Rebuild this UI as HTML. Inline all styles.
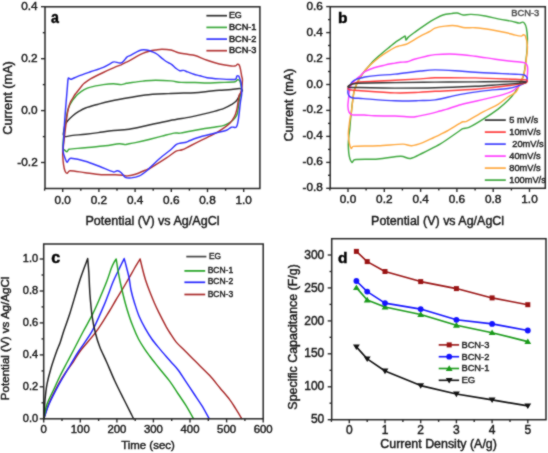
<!DOCTYPE html>
<html><head><meta charset="utf-8"><title>Figure</title>
<style>html,body{margin:0;padding:0;background:#fff;width:548px;height:453px;overflow:hidden}svg{display:block}text{font-family:"Liberation Sans",sans-serif}</style>
</head><body>
<svg width="548" height="453" viewBox="0 0 548 453" font-family='&quot;Liberation Sans&quot;, sans-serif'>
<filter id="soft" filterUnits="userSpaceOnUse" x="0" y="0" width="548" height="453" color-interpolation-filters="sRGB"><feConvolveMatrix order="3" kernelMatrix="1 2 1 2 12 2 1 2 1" divisor="24" edgeMode="duplicate"/></filter>
<g filter="url(#soft)">
<rect width="548" height="453" fill="#ffffff"/>
<path d="M63.3 134.5 C63.2 133.6 63.5 132.5 63.8 131.0 C64.1 129.3 64.4 126.3 65.1 124.6 C65.8 122.9 66.4 122.3 67.7 120.8 C69.0 119.3 70.9 117.3 72.8 115.7 C74.7 114.1 77.1 112.5 79.2 111.2 C81.3 109.9 82.7 109.0 85.5 108.0 C88.7 106.8 94.0 105.4 98.3 104.2 C102.6 103.0 105.8 102.1 111.1 101.0 C116.4 99.9 124.3 98.5 130.0 97.5 C135.7 96.5 138.9 95.7 145.3 95.0 C151.7 94.3 160.0 94.0 168.3 93.6 C176.6 93.2 188.5 93.0 195.0 92.7 C200.1 92.4 203.0 91.9 207.1 91.5 C211.2 91.1 215.2 90.6 219.3 90.3 C223.4 90.0 228.0 89.8 231.4 89.5 C234.8 89.2 238.1 88.5 239.9 88.6 C241.1 88.7 242.2 89.4 242.4 90.1 C242.6 90.8 241.6 91.7 241.2 92.5 C240.8 93.3 240.4 94.0 239.8 95.0 C239.0 96.4 237.6 99.5 236.2 101.1 C234.8 102.7 233.3 103.5 231.3 104.7 C229.3 105.9 226.8 107.3 224.0 108.4 C221.2 109.5 218.0 110.4 214.3 111.4 C210.7 112.4 206.2 113.5 202.1 114.4 C198.0 115.4 195.1 116.1 190.0 117.1 C184.7 118.1 176.8 119.2 170.1 120.5 C163.4 121.8 156.8 123.3 150.0 124.8 C143.2 126.2 135.5 128.2 129.0 129.2 C122.5 130.2 116.2 130.2 111.1 130.8 C106.0 131.4 102.6 132.0 98.3 132.6 C94.0 133.2 89.8 133.7 85.5 134.2 C81.2 134.7 76.3 135.0 72.8 135.4 C69.3 135.8 66.0 136.8 64.4 136.6 C63.4 136.5 63.4 135.4 63.3 134.5 Z" fill="none" stroke="#2e2e2e" stroke-width="1.45" stroke-linejoin="round" stroke-linecap="round"/>
<path d="M63.1 149.2 C62.9 148.5 62.9 147.3 62.9 146.0 C62.9 144.5 63.1 142.2 63.3 140.0 C63.5 137.8 63.6 135.9 64.0 133.0 C64.4 130.0 65.1 125.8 65.7 122.0 C66.3 118.2 67.0 113.5 67.7 110.5 C68.4 107.7 69.4 105.9 70.2 104.2 C71.0 102.5 71.9 101.4 72.7 100.2 C73.5 99.0 74.5 98.0 75.3 97.0 C76.1 96.0 76.6 95.3 77.8 94.3 C79.3 93.1 82.1 90.9 84.2 89.7 C86.3 88.5 87.7 87.8 90.5 87.1 C93.7 86.2 99.5 85.2 103.3 84.6 C107.1 84.0 110.5 83.7 113.5 83.7 C116.5 83.7 119.1 84.7 121.2 84.6 C123.3 84.5 124.8 83.6 126.3 83.3 C127.8 83.0 128.4 83.0 130.0 82.8 C132.8 82.4 138.6 81.5 142.8 81.1 C147.1 80.7 150.8 80.2 155.5 80.2 C160.2 80.2 166.6 80.5 170.9 80.9 C175.2 81.3 177.1 82.1 181.1 82.4 C185.1 82.7 190.7 82.4 195.0 82.5 C199.3 82.6 203.0 83.0 207.1 83.0 C211.2 83.0 214.6 82.7 219.3 82.5 C224.0 82.3 232.1 82.3 235.1 81.8 C236.4 81.6 236.8 79.9 237.5 79.7 C238.2 79.5 238.8 79.8 239.3 80.4 C239.8 81.0 240.2 82.1 240.5 83.4 C240.9 85.0 241.7 88.2 241.7 90.1 C241.7 92.0 240.9 93.8 240.6 95.0 C240.3 96.0 240.0 96.4 239.8 97.4 C239.5 99.0 239.0 102.1 238.6 104.7 C238.2 107.3 238.0 111.0 237.4 113.2 C236.8 115.4 236.1 116.6 234.9 118.1 C233.7 119.6 231.9 121.1 230.1 122.3 C228.3 123.5 226.6 124.6 224.0 125.4 C221.4 126.2 218.0 126.6 214.3 127.2 C210.7 127.8 206.2 128.3 202.1 129.0 C198.0 129.7 193.7 130.5 190.0 131.2 C186.3 131.9 182.8 132.8 180.1 133.1 C177.6 133.4 176.6 132.7 174.1 133.1 C171.1 133.6 166.0 135.1 162.0 136.1 C158.0 137.1 154.4 138.1 150.0 139.2 C145.6 140.3 139.1 141.8 135.4 142.6 C132.3 143.3 129.7 143.7 128.0 144.0 C126.9 144.2 126.5 144.6 125.3 144.6 C123.8 144.6 121.8 143.6 119.3 143.8 C116.0 144.0 110.9 145.1 105.2 145.8 C99.5 146.5 91.2 147.2 85.2 147.8 C79.2 148.4 72.1 148.5 69.1 149.2 C67.8 149.5 67.8 151.6 67.0 151.7 C66.2 151.8 65.1 150.3 64.4 149.9 C63.9 149.6 63.3 149.8 63.1 149.2 Z" fill="none" stroke="#3aa83a" stroke-width="1.45" stroke-linejoin="round" stroke-linecap="round"/>
<path d="M62.7 154.2 C62.7 151.6 63.0 150.3 63.2 148.0 C63.4 145.7 63.7 143.5 64.1 140.2 C64.5 136.9 65.0 132.0 65.5 128.0 C66.0 124.0 66.5 119.3 67.0 116.0 C67.5 112.7 67.9 110.3 68.5 108.0 C69.1 105.7 69.8 103.6 70.5 102.0 C71.2 100.4 71.9 99.6 72.7 98.3 C73.5 97.0 74.5 95.2 75.3 94.0 C76.1 92.8 76.8 92.3 77.8 91.0 C78.9 89.7 80.6 87.3 81.7 86.0 C82.7 84.8 83.0 84.3 84.2 83.3 C85.7 82.1 87.7 80.4 90.5 78.8 C93.7 77.0 99.0 74.5 103.3 72.5 C107.6 70.5 113.1 68.0 116.1 66.7 C118.2 65.8 119.5 65.5 121.2 64.8 C122.9 64.0 124.8 62.9 126.3 62.2 C127.8 61.5 128.5 61.2 130.0 60.4 C131.7 59.5 134.3 57.8 136.4 56.6 C138.5 55.4 140.7 54.3 142.8 53.4 C144.9 52.5 147.1 51.8 149.2 51.2 C151.3 50.6 153.4 50.3 155.5 50.0 C157.6 49.7 159.3 49.2 161.9 49.2 C164.5 49.2 168.1 49.4 170.9 50.0 C173.7 50.6 175.7 52.1 178.5 52.8 C181.3 53.5 184.8 53.8 187.5 54.3 C190.2 54.8 191.9 54.6 195.0 55.5 C198.3 56.5 203.0 58.9 207.1 60.3 C211.2 61.7 215.2 63.0 219.3 64.0 C223.4 65.0 228.7 65.7 231.4 66.0 C233.2 66.2 234.7 66.1 235.7 65.8 C236.6 65.5 236.9 64.4 237.5 64.3 C238.1 64.2 238.9 64.5 239.3 65.2 C239.8 66.1 240.1 67.6 240.5 69.4 C240.9 71.2 241.4 74.5 241.7 76.1 C241.9 77.4 242.3 77.8 242.4 79.1 C242.5 80.4 242.3 82.3 242.2 84.0 C242.1 85.7 242.0 87.5 241.7 89.0 C241.4 90.5 240.9 92.0 240.5 93.0 C240.1 93.9 239.5 94.0 239.2 95.0 C238.8 96.5 238.4 99.9 238.0 102.3 C237.6 104.7 237.4 107.2 236.8 109.6 C236.2 112.0 235.4 114.7 234.3 116.9 C233.2 119.1 231.8 121.1 230.1 122.9 C228.4 124.7 226.6 126.0 224.0 127.8 C221.4 129.6 218.0 131.9 214.3 133.9 C210.7 135.9 206.2 137.9 202.1 139.9 C198.0 141.9 193.3 144.3 190.0 146.0 C186.7 147.6 184.4 148.9 182.1 149.8 C179.8 150.7 178.4 150.0 176.1 151.2 C173.4 152.6 170.4 155.4 166.1 158.2 C161.8 161.0 153.1 166.5 150.0 168.3 C149.0 168.9 148.5 168.9 147.4 169.3 C145.0 170.3 138.8 173.2 135.4 174.3 C132.1 175.4 129.3 175.7 127.3 175.9 C125.6 176.0 125.0 175.5 123.3 175.3 C121.3 175.1 118.7 174.8 115.3 174.7 C111.6 174.6 106.2 175.0 101.2 174.7 C96.2 174.4 90.4 173.4 85.2 172.7 C80.0 172.0 73.1 170.6 70.1 170.7 C68.4 170.8 67.9 173.2 67.1 173.3 C66.3 173.4 65.5 172.4 65.1 171.3 C64.5 169.8 63.9 167.2 63.5 164.3 C63.1 161.5 62.8 156.9 62.7 154.2 Z" fill="none" stroke="#b23434" stroke-width="1.45" stroke-linejoin="round" stroke-linecap="round"/>
<path d="M63.1 151.2 C62.9 148.2 63.4 143.5 63.6 140.0 C63.8 136.5 63.9 134.3 64.1 130.1 C64.3 125.9 64.7 120.0 65.1 115.0 C65.5 110.0 65.9 104.5 66.3 100.0 C66.7 95.5 67.0 91.6 67.3 88.0 C67.6 84.4 67.8 79.8 68.2 78.2 C68.3 77.7 69.0 78.3 69.5 78.5 C70.0 78.7 70.6 79.4 71.4 79.2 C72.8 78.8 75.0 77.4 77.8 76.3 C81.0 75.1 86.2 73.3 90.5 71.8 C94.8 70.3 99.6 68.9 103.3 67.3 C107.0 65.7 111.0 63.1 112.9 62.2 C113.6 61.9 114.0 61.8 114.8 61.9 C115.8 62.0 117.5 62.7 118.6 62.9 C119.7 63.1 120.3 63.2 121.2 62.9 C122.1 62.6 122.8 61.9 123.7 61.0 C124.7 60.0 125.9 58.0 126.9 57.1 C128.0 56.2 128.7 56.3 130.0 55.6 C131.6 54.8 134.5 53.0 136.4 52.1 C138.3 51.2 139.8 50.4 141.5 50.0 C143.2 49.6 144.9 49.8 146.6 50.0 C148.3 50.2 150.0 50.8 151.7 51.5 C153.4 52.2 154.9 52.7 156.8 54.0 C158.7 55.3 161.3 57.8 163.2 59.2 C165.1 60.7 166.9 61.9 168.3 62.7 C169.6 63.5 170.3 63.4 171.5 64.3 C172.8 65.2 174.6 67.3 176.0 68.4 C177.4 69.5 178.5 70.4 179.8 70.7 C181.1 71.0 182.3 70.2 183.6 70.4 C184.9 70.6 185.9 71.3 187.5 71.9 C189.2 72.5 191.8 73.6 193.9 74.2 C196.0 74.8 197.8 75.2 200.0 75.8 C202.2 76.4 204.1 77.2 207.1 77.7 C210.3 78.2 215.2 78.6 219.3 78.9 C223.4 79.2 228.7 79.5 231.4 79.5 C233.2 79.5 234.8 79.7 235.7 79.1 C236.6 78.5 236.4 76.6 236.9 76.1 C237.4 75.6 238.2 75.6 238.7 76.1 C239.2 76.6 239.5 78.0 239.9 79.1 C240.3 80.2 240.8 81.2 241.1 82.8 C241.4 84.6 241.6 88.1 241.7 90.1 C241.8 92.1 241.8 93.0 241.6 95.0 C241.4 97.0 240.8 99.3 240.4 102.3 C240.0 105.3 239.6 110.0 239.2 113.2 C238.8 116.4 238.5 119.4 238.0 121.7 C237.5 124.0 237.3 126.3 236.2 127.2 C235.1 128.1 232.9 126.7 231.3 127.2 C229.7 127.7 228.7 129.4 226.4 130.2 C223.6 131.2 218.4 132.3 214.3 133.3 C210.2 134.3 206.2 135.1 202.1 136.3 C198.0 137.5 192.7 139.5 190.0 140.5 C188.3 141.1 187.8 141.8 186.1 142.2 C184.4 142.6 181.8 142.8 180.1 143.2 C178.4 143.6 177.6 143.6 176.1 144.6 C174.4 145.8 172.7 148.0 170.1 150.2 C167.4 152.5 163.3 155.3 160.0 158.2 C156.7 161.1 152.1 165.6 150.0 167.6 C148.9 168.7 148.6 169.3 147.4 170.3 C145.6 171.7 142.1 174.6 139.4 175.9 C136.7 177.2 133.7 177.7 131.3 177.9 C129.0 178.1 127.0 178.2 125.3 177.3 C123.6 176.4 122.6 173.8 121.3 172.7 C120.0 171.6 118.6 170.8 117.3 170.7 C116.0 170.6 115.0 172.3 113.3 171.9 C110.3 171.2 103.9 168.1 99.2 166.3 C94.5 164.5 89.9 162.5 85.2 161.2 C80.5 159.8 73.8 158.5 71.1 158.2 C70.2 158.1 69.8 158.5 69.1 159.2 C68.4 159.9 67.8 162.4 67.1 162.2 C66.4 162.0 65.7 160.0 65.1 158.2 C64.4 156.4 63.4 154.2 63.1 151.2 Z" fill="none" stroke="#3333ff" stroke-width="1.45" stroke-linejoin="round" stroke-linecap="round"/>
<rect x="45.0" y="6.8" width="214.9" height="181.7" fill="none" stroke="#262626" stroke-width="1.50"/>
<line x1="41.0" y1="6.7" x2="45.0" y2="6.7" stroke="#262626" stroke-width="1.35"/>
<line x1="41.0" y1="58.7" x2="45.0" y2="58.7" stroke="#262626" stroke-width="1.35"/>
<line x1="41.0" y1="110.6" x2="45.0" y2="110.6" stroke="#262626" stroke-width="1.35"/>
<line x1="41.0" y1="162.5" x2="45.0" y2="162.5" stroke="#262626" stroke-width="1.35"/>
<line x1="42.8" y1="32.7" x2="45.0" y2="32.7" stroke="#262626" stroke-width="1.35"/>
<line x1="42.8" y1="84.6" x2="45.0" y2="84.6" stroke="#262626" stroke-width="1.35"/>
<line x1="42.8" y1="136.6" x2="45.0" y2="136.6" stroke="#262626" stroke-width="1.35"/>
<text x="37.7" y="9.9" font-size="11.80" text-anchor="end" font-weight="normal" fill="#161616" stroke="#161616" stroke-width="0.42" >0.4</text>
<text x="37.7" y="61.9" font-size="11.80" text-anchor="end" font-weight="normal" fill="#161616" stroke="#161616" stroke-width="0.42" >0.2</text>
<text x="37.7" y="113.8" font-size="11.80" text-anchor="end" font-weight="normal" fill="#161616" stroke="#161616" stroke-width="0.42" >0.0</text>
<text x="37.7" y="165.7" font-size="11.80" text-anchor="end" font-weight="normal" fill="#161616" stroke="#161616" stroke-width="0.42" >-0.2</text>
<line x1="62.7" y1="188.5" x2="62.7" y2="192.1" stroke="#262626" stroke-width="1.35"/>
<line x1="98.9" y1="188.5" x2="98.9" y2="192.1" stroke="#262626" stroke-width="1.35"/>
<line x1="135.1" y1="188.5" x2="135.1" y2="192.1" stroke="#262626" stroke-width="1.35"/>
<line x1="171.3" y1="188.5" x2="171.3" y2="192.1" stroke="#262626" stroke-width="1.35"/>
<line x1="207.5" y1="188.5" x2="207.5" y2="192.1" stroke="#262626" stroke-width="1.35"/>
<line x1="243.7" y1="188.5" x2="243.7" y2="192.1" stroke="#262626" stroke-width="1.35"/>
<line x1="44.6" y1="188.5" x2="44.6" y2="190.7" stroke="#262626" stroke-width="1.35"/>
<line x1="80.8" y1="188.5" x2="80.8" y2="190.7" stroke="#262626" stroke-width="1.35"/>
<line x1="117.0" y1="188.5" x2="117.0" y2="190.7" stroke="#262626" stroke-width="1.35"/>
<line x1="153.2" y1="188.5" x2="153.2" y2="190.7" stroke="#262626" stroke-width="1.35"/>
<line x1="189.4" y1="188.5" x2="189.4" y2="190.7" stroke="#262626" stroke-width="1.35"/>
<line x1="225.6" y1="188.5" x2="225.6" y2="190.7" stroke="#262626" stroke-width="1.35"/>
<text x="62.7" y="203.6" font-size="11.80" text-anchor="middle" font-weight="normal" fill="#161616" stroke="#161616" stroke-width="0.42" >0.0</text>
<text x="98.9" y="203.6" font-size="11.80" text-anchor="middle" font-weight="normal" fill="#161616" stroke="#161616" stroke-width="0.42" >0.2</text>
<text x="135.1" y="203.6" font-size="11.80" text-anchor="middle" font-weight="normal" fill="#161616" stroke="#161616" stroke-width="0.42" >0.4</text>
<text x="171.3" y="203.6" font-size="11.80" text-anchor="middle" font-weight="normal" fill="#161616" stroke="#161616" stroke-width="0.42" >0.6</text>
<text x="207.5" y="203.6" font-size="11.80" text-anchor="middle" font-weight="normal" fill="#161616" stroke="#161616" stroke-width="0.42" >0.8</text>
<text x="243.7" y="203.6" font-size="11.80" text-anchor="middle" font-weight="normal" fill="#161616" stroke="#161616" stroke-width="0.42" >1.0</text>
<text x="152.5" y="224.6" font-size="12.50" text-anchor="middle" font-weight="normal" fill="#161616" stroke="#161616" stroke-width="0.42" textLength="134.0" lengthAdjust="spacingAndGlyphs" >Potential (V) vs Ag/AgCl</text>
<text x="12.3" y="97.9" font-size="12.50" text-anchor="middle" font-weight="normal" fill="#161616" stroke="#161616" stroke-width="0.42" textLength="73.5" lengthAdjust="spacingAndGlyphs" transform="rotate(-90 12.3 97.9)" >Current (mA)</text>
<text x="51.1" y="22.9" font-size="16.00" text-anchor="start" font-weight="bold" fill="#000" stroke="#000" stroke-width="0.45" textLength="7.9" lengthAdjust="spacingAndGlyphs" >a</text>
<line x1="206.4" y1="15.7" x2="227.0" y2="15.7" stroke="#2e2e2e" stroke-width="1.70"/>
<text x="228.9" y="18.2" font-size="8.80" text-anchor="start" font-weight="normal" fill="#161616" stroke="#161616" stroke-width="0.42" textLength="12.9" lengthAdjust="spacingAndGlyphs" >EG</text>
<line x1="206.4" y1="27.4" x2="227.0" y2="27.4" stroke="#3aa83a" stroke-width="1.70"/>
<text x="228.9" y="29.9" font-size="8.80" text-anchor="start" font-weight="normal" fill="#161616" stroke="#161616" stroke-width="0.42" textLength="27.6" lengthAdjust="spacingAndGlyphs" >BCN-1</text>
<line x1="206.4" y1="39.1" x2="227.0" y2="39.1" stroke="#3333ff" stroke-width="1.70"/>
<text x="228.9" y="41.6" font-size="8.80" text-anchor="start" font-weight="normal" fill="#161616" stroke="#161616" stroke-width="0.42" textLength="27.6" lengthAdjust="spacingAndGlyphs" >BCN-2</text>
<line x1="206.4" y1="50.7" x2="227.0" y2="50.7" stroke="#b23434" stroke-width="1.70"/>
<text x="228.9" y="53.2" font-size="8.80" text-anchor="start" font-weight="normal" fill="#161616" stroke="#161616" stroke-width="0.42" textLength="27.6" lengthAdjust="spacingAndGlyphs" >BCN-3</text>
<path d="M351.9 162.3 C351.0 161.8 349.9 159.1 349.3 156.4 C348.7 153.5 348.4 148.4 348.3 145.0 C348.2 141.6 348.7 138.5 348.9 136.0 C349.1 133.5 349.4 132.5 349.7 129.9 C350.0 127.2 350.2 122.7 350.5 120.0 C350.7 117.5 350.9 116.5 351.2 114.0 C351.5 111.5 351.6 108.8 352.1 105.1 C352.6 101.4 353.2 95.3 354.0 91.7 C354.8 88.1 355.8 85.8 357.0 83.2 C358.2 80.6 359.8 78.1 361.2 75.9 C362.6 73.7 364.1 71.7 365.5 69.9 C366.9 68.1 368.3 66.8 369.7 65.2 C371.1 63.6 372.1 62.2 374.1 60.2 C376.2 58.2 379.4 55.5 382.0 53.2 C384.6 50.9 387.8 48.4 390.0 46.6 C392.1 44.9 392.8 44.2 395.0 42.6 C397.2 41.0 401.6 38.2 403.3 37.1 C404.1 36.6 404.9 35.6 405.3 36.1 C405.7 36.6 405.4 39.9 405.9 40.1 C406.4 40.3 407.1 38.2 408.3 37.1 C410.0 35.6 413.3 33.3 416.3 31.1 C419.3 28.9 423.4 26.1 426.4 24.1 C429.4 22.1 431.6 20.6 434.4 19.1 C437.2 17.6 440.2 15.9 443.0 15.0 C445.8 14.1 448.8 13.9 451.1 13.6 C453.5 13.3 455.1 12.8 457.1 13.0 C459.1 13.2 460.8 14.8 463.1 15.0 C465.4 15.2 467.7 14.2 471.1 14.4 C474.8 14.6 480.5 15.2 485.2 16.0 C489.9 16.8 494.9 18.2 499.3 19.1 C503.7 20.0 508.0 20.4 511.3 21.1 C514.6 21.8 517.5 22.9 519.3 23.1 C520.6 23.2 521.4 22.1 522.3 22.1 C523.1 22.1 523.8 22.3 524.4 23.1 C525.1 24.1 526.0 25.9 526.4 28.1 C526.9 30.6 527.3 34.4 527.4 38.1 C527.5 41.8 527.3 45.9 527.0 50.2 C526.7 54.6 526.0 59.9 525.4 64.2 C524.8 68.5 524.3 73.2 523.4 76.3 C522.5 79.3 521.4 80.4 520.0 83.0 C518.6 85.6 517.1 89.2 515.1 92.1 C513.1 95.0 510.7 97.8 507.9 100.6 C505.1 103.4 502.2 106.0 498.1 109.1 C494.1 112.1 488.5 115.9 483.6 118.9 C478.8 122.0 472.4 125.8 469.0 127.4 C466.6 128.5 464.5 128.0 462.9 128.6 C461.3 129.2 460.8 130.0 459.3 131.0 C456.7 132.8 450.3 137.3 447.1 139.5 C444.2 141.5 442.2 142.8 440.0 144.1 C437.8 145.4 436.4 146.0 433.8 147.4 C430.9 148.9 426.7 151.2 422.8 153.0 C418.9 154.8 414.3 157.9 410.6 158.5 C406.9 159.1 405.0 156.2 400.7 156.3 C395.3 156.4 385.7 158.4 378.0 159.0 C370.3 159.6 359.0 159.1 354.6 159.7 C353.0 159.9 352.8 162.9 351.9 162.3 Z" fill="none" stroke="#3fa83f" stroke-width="1.45" stroke-linejoin="round" stroke-linecap="round"/>
<path d="M348.3 133.8 C348.3 130.6 349.0 126.8 349.3 124.0 C349.6 121.2 350.0 119.0 350.3 117.0 C350.6 115.0 351.1 114.1 351.4 112.0 C351.7 109.8 351.9 107.4 352.3 104.0 C352.8 100.6 353.3 95.0 354.1 91.5 C354.9 88.0 355.9 85.7 357.1 83.1 C358.3 80.5 359.9 78.0 361.3 75.8 C362.7 73.6 364.0 71.7 365.6 69.8 C367.2 67.9 368.7 66.4 371.0 64.3 C373.3 62.2 376.7 59.3 379.4 57.2 C382.1 55.1 384.7 53.5 387.3 51.9 C389.9 50.2 393.2 48.2 395.0 47.3 C396.3 46.6 396.9 46.6 398.3 46.2 C400.2 45.7 404.3 44.9 406.3 44.2 C408.1 43.6 408.7 43.0 410.3 42.1 C412.6 40.8 417.0 37.9 420.4 36.1 C423.8 34.3 428.0 32.4 430.4 31.1 C432.4 30.0 432.8 28.8 435.0 28.1 C437.4 27.3 441.6 26.5 445.0 26.1 C448.4 25.7 451.8 25.4 455.1 25.7 C458.5 26.0 461.8 27.4 465.1 27.7 C468.5 28.0 471.0 27.4 475.2 27.7 C479.5 28.0 486.2 28.9 491.2 29.7 C496.2 30.5 501.3 31.6 505.3 32.5 C509.3 33.4 512.6 34.5 515.3 35.1 C517.8 35.7 519.9 36.2 521.3 36.1 C522.4 36.0 522.7 34.7 523.4 34.7 C524.1 34.7 525.1 35.1 525.4 36.1 C526.1 38.0 527.2 42.5 527.4 46.2 C527.6 49.9 526.9 53.9 526.4 58.2 C525.9 62.6 525.5 68.1 524.4 72.3 C523.3 76.5 521.4 80.2 520.0 83.5 C518.6 86.8 518.0 89.8 516.0 92.0 C514.0 94.2 510.9 95.0 507.9 97.0 C504.9 99.0 502.2 101.9 498.1 104.3 C494.1 106.7 488.9 108.8 483.6 111.6 C478.4 114.4 470.1 119.6 466.6 121.3 C465.2 122.0 464.1 121.4 462.9 121.8 C461.7 122.2 460.8 122.8 459.3 123.7 C456.7 125.2 450.3 129.2 447.1 131.0 C444.2 132.6 442.2 133.5 440.0 134.6 C437.8 135.7 436.4 136.3 433.8 137.5 C430.9 138.8 426.5 141.2 422.8 142.6 C419.1 144.0 415.0 145.4 411.7 145.7 C408.4 145.9 406.7 144.1 402.9 144.1 C397.3 144.1 386.3 145.4 378.0 145.8 C369.7 146.2 357.7 146.0 353.2 146.4 C352.0 146.5 351.8 149.0 351.2 148.4 C350.6 147.8 349.8 145.4 349.3 143.1 C348.8 140.7 348.3 137.0 348.3 133.8 Z" fill="none" stroke="#ffa940" stroke-width="1.45" stroke-linejoin="round" stroke-linecap="round"/>
<path d="M348.5 99.0 C348.7 96.6 348.9 94.0 349.2 92.0 C349.5 90.0 349.6 88.7 350.3 87.0 C351.0 85.3 352.3 83.4 353.4 82.0 C354.5 80.6 355.8 79.7 357.0 78.6 C358.2 77.5 359.3 76.7 360.6 75.5 C361.9 74.3 362.7 72.9 364.8 71.7 C367.1 70.4 370.8 68.9 374.1 67.8 C377.4 66.7 381.2 65.9 384.7 65.1 C388.2 64.3 392.4 63.6 395.0 63.1 C397.2 62.7 398.2 62.4 400.3 62.2 C402.4 62.0 405.0 62.3 407.3 61.8 C409.6 61.3 411.3 60.1 414.3 59.2 C417.5 58.3 422.9 57.0 426.4 56.2 C429.8 55.4 431.3 54.9 435.0 54.6 C439.8 54.3 448.4 53.9 455.1 54.2 C461.8 54.5 468.5 55.4 475.2 56.2 C481.9 57.0 489.2 58.4 495.2 59.2 C501.2 60.0 507.0 60.7 511.3 61.2 C515.5 61.7 518.9 61.9 521.3 62.2 C523.1 62.4 524.4 62.5 525.4 63.2 C526.4 63.9 527.0 64.7 527.4 66.2 C527.8 67.7 527.7 70.0 527.6 72.0 C527.5 74.0 527.2 76.5 527.0 78.0 C526.8 79.4 527.1 80.2 526.1 81.2 C524.9 82.4 522.2 83.3 520.0 84.9 C517.8 86.5 515.5 89.3 512.7 90.9 C509.9 92.5 507.2 93.4 503.0 94.6 C498.1 96.0 490.1 97.9 483.6 99.4 C477.1 100.9 468.2 102.9 464.1 103.8 C462.1 104.3 461.3 104.4 459.3 105.0 C456.5 105.9 450.3 108.1 447.1 109.1 C444.2 110.0 442.9 110.2 440.0 111.0 C437.1 111.8 433.0 113.1 429.4 113.9 C425.8 114.8 421.3 115.6 418.4 116.1 C415.6 116.6 414.5 117.0 411.7 117.0 C407.8 117.0 401.2 116.2 395.0 116.0 C388.8 115.8 379.3 116.0 374.2 115.8 C370.0 115.7 368.0 115.2 364.3 115.0 C360.6 114.8 354.6 115.2 352.1 114.8 C350.5 114.5 349.8 113.8 349.1 112.4 C348.4 111.0 348.0 108.5 347.9 106.3 C347.8 104.1 348.3 101.4 348.5 99.0 Z" fill="none" stroke="#ff40ff" stroke-width="1.45" stroke-linejoin="round" stroke-linecap="round"/>
<path d="M347.9 92.9 C347.7 91.5 348.1 89.4 348.5 88.1 C348.9 86.8 349.6 86.0 350.2 85.0 C350.8 84.0 351.2 82.9 352.1 82.0 C353.0 81.1 353.9 80.3 355.5 79.6 C357.1 78.9 360.3 78.1 361.9 77.7 C363.1 77.4 363.6 77.2 364.8 77.0 C367.5 76.6 373.1 75.9 378.1 75.4 C383.1 74.9 387.9 74.8 395.0 74.1 C402.1 73.4 413.7 71.7 420.4 71.0 C426.5 70.4 429.2 70.0 435.0 69.9 C440.8 69.9 448.4 70.3 455.1 70.7 C461.8 71.1 468.5 71.9 475.2 72.3 C481.9 72.7 488.5 73.0 495.2 73.3 C501.9 73.6 510.6 74.1 515.3 74.3 C518.7 74.5 521.4 74.2 523.4 74.7 C525.2 75.2 526.4 76.4 527.0 77.3 C527.6 78.2 526.9 79.4 526.8 80.3 C526.6 81.2 526.9 81.9 526.1 82.4 C524.6 83.4 520.6 85.1 517.6 86.1 C514.6 87.1 512.1 87.9 507.9 88.5 C502.2 89.3 491.7 89.9 483.6 90.9 C475.5 91.9 467.4 93.1 459.3 94.6 C451.2 96.1 441.8 98.9 435.0 99.9 C428.2 100.9 425.1 100.4 418.4 100.6 C411.7 100.8 404.2 101.1 395.0 100.8 C385.8 100.5 370.0 99.1 363.1 98.6 C359.0 98.3 355.6 98.3 353.4 98.0 C351.8 97.8 350.6 97.4 349.7 96.6 C348.8 95.8 348.1 94.3 347.9 92.9 Z" fill="none" stroke="#4040ff" stroke-width="1.45" stroke-linejoin="round" stroke-linecap="round"/>
<path d="M347.9 88.7 C347.8 88.2 348.4 87.2 349.0 86.5 C349.6 85.8 350.5 84.9 351.5 84.3 C352.5 83.7 353.9 83.4 355.0 83.0 C356.1 82.6 356.8 82.1 358.2 82.0 C364.9 81.5 384.6 80.7 395.0 80.2 C405.4 79.7 413.7 79.3 420.4 78.9 C426.5 78.5 428.9 77.9 435.0 77.8 C444.1 77.6 461.8 77.7 475.2 77.9 C488.6 78.2 506.8 79.0 515.3 79.3 C520.0 79.5 524.4 79.6 526.4 79.9 C527.1 80.0 527.5 80.7 527.3 81.2 C527.1 81.7 526.4 82.7 525.4 83.1 C524.2 83.6 522.3 83.7 520.0 84.1 C517.4 84.5 514.2 85.0 510.0 85.5 C505.8 86.0 500.8 86.6 495.0 87.2 C489.2 87.8 483.5 88.7 475.2 89.3 C465.2 90.0 444.5 90.8 435.0 91.3 C428.0 91.7 425.1 92.1 418.4 92.4 C411.7 92.7 404.8 93.2 395.0 92.9 C385.0 92.6 365.4 91.0 358.2 90.5 C355.6 90.3 353.5 90.1 352.0 90.0 C350.9 89.9 350.0 90.0 349.3 89.8 C348.6 89.6 347.9 89.2 347.9 88.7 Z" fill="none" stroke="#ff3b3b" stroke-width="1.45" stroke-linejoin="round" stroke-linecap="round"/>
<path d="M347.9 86.6 C348.1 86.2 349.2 85.4 350.0 85.0 C350.8 84.6 351.4 84.2 352.5 84.0 C353.9 83.7 355.8 83.3 358.2 83.2 C365.3 83.0 382.2 82.8 395.0 82.6 C407.8 82.4 421.6 82.2 435.0 82.1 C448.4 82.0 462.7 82.0 475.2 81.9 C487.7 81.8 502.2 81.6 510.0 81.5 C515.0 81.4 519.3 81.4 522.0 81.4 C523.7 81.4 525.6 81.6 526.0 81.8 C526.4 82.0 525.2 82.5 524.5 82.6 C522.7 82.9 519.0 83.3 515.0 83.6 C510.9 83.9 506.3 84.2 500.0 84.6 C493.4 85.0 485.6 85.8 475.2 86.3 C464.4 86.8 448.4 87.5 435.0 87.8 C421.6 88.1 407.8 88.1 395.0 88.1 C382.2 88.0 365.4 87.6 358.2 87.5 C355.6 87.5 353.5 87.4 352.0 87.4 C350.7 87.4 349.7 87.4 349.0 87.3 C348.5 87.2 347.7 87.0 347.9 86.6 Z" fill="none" stroke="#333333" stroke-width="1.45" stroke-linejoin="round" stroke-linecap="round"/>
<rect x="330.2" y="6.7" width="215.1" height="181.6" fill="none" stroke="#262626" stroke-width="1.50"/>
<line x1="326.2" y1="6.6" x2="330.2" y2="6.6" stroke="#262626" stroke-width="1.35"/>
<line x1="326.2" y1="32.6" x2="330.2" y2="32.6" stroke="#262626" stroke-width="1.35"/>
<line x1="326.2" y1="58.5" x2="330.2" y2="58.5" stroke="#262626" stroke-width="1.35"/>
<line x1="326.2" y1="84.5" x2="330.2" y2="84.5" stroke="#262626" stroke-width="1.35"/>
<line x1="326.2" y1="110.4" x2="330.2" y2="110.4" stroke="#262626" stroke-width="1.35"/>
<line x1="326.2" y1="136.4" x2="330.2" y2="136.4" stroke="#262626" stroke-width="1.35"/>
<line x1="326.2" y1="162.4" x2="330.2" y2="162.4" stroke="#262626" stroke-width="1.35"/>
<line x1="326.2" y1="188.3" x2="330.2" y2="188.3" stroke="#262626" stroke-width="1.35"/>
<line x1="328.0" y1="19.6" x2="330.2" y2="19.6" stroke="#262626" stroke-width="1.35"/>
<line x1="328.0" y1="45.5" x2="330.2" y2="45.5" stroke="#262626" stroke-width="1.35"/>
<line x1="328.0" y1="71.5" x2="330.2" y2="71.5" stroke="#262626" stroke-width="1.35"/>
<line x1="328.0" y1="97.5" x2="330.2" y2="97.5" stroke="#262626" stroke-width="1.35"/>
<line x1="328.0" y1="123.4" x2="330.2" y2="123.4" stroke="#262626" stroke-width="1.35"/>
<line x1="328.0" y1="149.4" x2="330.2" y2="149.4" stroke="#262626" stroke-width="1.35"/>
<line x1="328.0" y1="175.3" x2="330.2" y2="175.3" stroke="#262626" stroke-width="1.35"/>
<text x="322.8" y="9.6" font-size="11.80" text-anchor="end" font-weight="normal" fill="#161616" stroke="#161616" stroke-width="0.42" >0.6</text>
<text x="322.8" y="35.6" font-size="11.80" text-anchor="end" font-weight="normal" fill="#161616" stroke="#161616" stroke-width="0.42" >0.4</text>
<text x="322.8" y="61.5" font-size="11.80" text-anchor="end" font-weight="normal" fill="#161616" stroke="#161616" stroke-width="0.42" >0.2</text>
<text x="322.8" y="87.5" font-size="11.80" text-anchor="end" font-weight="normal" fill="#161616" stroke="#161616" stroke-width="0.42" >0.0</text>
<text x="322.8" y="113.4" font-size="11.80" text-anchor="end" font-weight="normal" fill="#161616" stroke="#161616" stroke-width="0.42" >-0.2</text>
<text x="322.8" y="139.4" font-size="11.80" text-anchor="end" font-weight="normal" fill="#161616" stroke="#161616" stroke-width="0.42" >-0.4</text>
<text x="322.8" y="165.4" font-size="11.80" text-anchor="end" font-weight="normal" fill="#161616" stroke="#161616" stroke-width="0.42" >-0.6</text>
<text x="322.8" y="191.3" font-size="11.80" text-anchor="end" font-weight="normal" fill="#161616" stroke="#161616" stroke-width="0.42" >-0.8</text>
<line x1="348.0" y1="188.3" x2="348.0" y2="191.9" stroke="#262626" stroke-width="1.35"/>
<line x1="384.3" y1="188.3" x2="384.3" y2="191.9" stroke="#262626" stroke-width="1.35"/>
<line x1="420.6" y1="188.3" x2="420.6" y2="191.9" stroke="#262626" stroke-width="1.35"/>
<line x1="456.9" y1="188.3" x2="456.9" y2="191.9" stroke="#262626" stroke-width="1.35"/>
<line x1="493.2" y1="188.3" x2="493.2" y2="191.9" stroke="#262626" stroke-width="1.35"/>
<line x1="529.5" y1="188.3" x2="529.5" y2="191.9" stroke="#262626" stroke-width="1.35"/>
<line x1="329.9" y1="188.3" x2="329.9" y2="190.5" stroke="#262626" stroke-width="1.35"/>
<line x1="366.1" y1="188.3" x2="366.1" y2="190.5" stroke="#262626" stroke-width="1.35"/>
<line x1="402.4" y1="188.3" x2="402.4" y2="190.5" stroke="#262626" stroke-width="1.35"/>
<line x1="438.8" y1="188.3" x2="438.8" y2="190.5" stroke="#262626" stroke-width="1.35"/>
<line x1="475.1" y1="188.3" x2="475.1" y2="190.5" stroke="#262626" stroke-width="1.35"/>
<line x1="511.4" y1="188.3" x2="511.4" y2="190.5" stroke="#262626" stroke-width="1.35"/>
<text x="348.0" y="203.4" font-size="11.80" text-anchor="middle" font-weight="normal" fill="#161616" stroke="#161616" stroke-width="0.42" >0.0</text>
<text x="384.3" y="203.4" font-size="11.80" text-anchor="middle" font-weight="normal" fill="#161616" stroke="#161616" stroke-width="0.42" >0.2</text>
<text x="420.6" y="203.4" font-size="11.80" text-anchor="middle" font-weight="normal" fill="#161616" stroke="#161616" stroke-width="0.42" >0.4</text>
<text x="456.9" y="203.4" font-size="11.80" text-anchor="middle" font-weight="normal" fill="#161616" stroke="#161616" stroke-width="0.42" >0.6</text>
<text x="493.2" y="203.4" font-size="11.80" text-anchor="middle" font-weight="normal" fill="#161616" stroke="#161616" stroke-width="0.42" >0.8</text>
<text x="529.5" y="203.4" font-size="11.80" text-anchor="middle" font-weight="normal" fill="#161616" stroke="#161616" stroke-width="0.42" >1.0</text>
<text x="437.6" y="225.0" font-size="12.50" text-anchor="middle" font-weight="normal" fill="#161616" stroke="#161616" stroke-width="0.42" textLength="133.0" lengthAdjust="spacingAndGlyphs" >Potential (V) vs Ag/AgCl</text>
<text x="293.0" y="105.0" font-size="12.50" text-anchor="middle" font-weight="normal" fill="#161616" stroke="#161616" stroke-width="0.42" textLength="73.0" lengthAdjust="spacingAndGlyphs" transform="rotate(-90 293.0 105.0)" >Current (mA)</text>
<text x="337.9" y="22.9" font-size="15.50" text-anchor="start" font-weight="bold" fill="#000" stroke="#000" stroke-width="0.45" >b</text>
<text x="539.3" y="16.2" font-size="9.00" text-anchor="end" font-weight="normal" fill="#4a4a4a" stroke="#4a4a4a" stroke-width="0.42" textLength="28.0" lengthAdjust="spacingAndGlyphs" >BCN-3</text>
<line x1="484.8" y1="120.1" x2="505.8" y2="120.1" stroke="#333333" stroke-width="1.70"/>
<text x="509.3" y="123.1" font-size="8.90" text-anchor="start" font-weight="normal" fill="#222" stroke="#222" stroke-width="0.42" textLength="28.8" lengthAdjust="spacingAndGlyphs" >5 mV/s</text>
<line x1="484.8" y1="132.1" x2="505.8" y2="132.1" stroke="#ff3b3b" stroke-width="1.70"/>
<text x="509.3" y="135.1" font-size="8.90" text-anchor="start" font-weight="normal" fill="#222" stroke="#222" stroke-width="0.42" textLength="31.4" lengthAdjust="spacingAndGlyphs" >10mV/s</text>
<line x1="484.8" y1="144.1" x2="505.8" y2="144.1" stroke="#4040ff" stroke-width="1.70"/>
<text x="512.3" y="147.1" font-size="8.90" text-anchor="start" font-weight="normal" fill="#222" stroke="#222" stroke-width="0.42" textLength="31.4" lengthAdjust="spacingAndGlyphs" >20mV/s</text>
<line x1="484.8" y1="156.1" x2="505.8" y2="156.1" stroke="#ff40ff" stroke-width="1.70"/>
<text x="509.3" y="159.1" font-size="8.90" text-anchor="start" font-weight="normal" fill="#222" stroke="#222" stroke-width="0.42" textLength="31.4" lengthAdjust="spacingAndGlyphs" >40mV/s</text>
<line x1="484.8" y1="168.1" x2="505.8" y2="168.1" stroke="#ffa940" stroke-width="1.70"/>
<text x="509.3" y="171.1" font-size="8.90" text-anchor="start" font-weight="normal" fill="#222" stroke="#222" stroke-width="0.42" textLength="31.4" lengthAdjust="spacingAndGlyphs" >80mV/s</text>
<line x1="484.8" y1="180.1" x2="505.8" y2="180.1" stroke="#3fa83f" stroke-width="1.70"/>
<text x="509.3" y="183.1" font-size="8.90" text-anchor="start" font-weight="normal" fill="#222" stroke="#222" stroke-width="0.42" textLength="36.5" lengthAdjust="spacingAndGlyphs" >100mV/s</text>
<path d="M43.9 418.6 C44.8 416.1 46.5 409.2 49.0 403.3 C51.5 397.4 56.3 388.4 59.1 383.2 C61.7 378.3 63.6 375.6 66.0 372.0 C68.4 368.4 70.8 365.5 73.3 361.8 C75.8 358.1 77.4 354.7 81.0 350.0 C84.8 345.0 91.5 338.2 96.2 331.7 C101.0 325.2 106.2 316.3 109.5 311.0 C112.3 306.5 113.7 303.6 115.9 300.0 C118.1 296.4 120.3 292.9 122.5 289.2 C124.7 285.5 127.1 281.2 129.1 277.8 C131.1 274.4 132.6 271.6 134.4 268.5 C136.2 265.4 139.2 260.6 140.1 259.0 M140.1 259.0 C140.5 260.6 141.5 264.9 142.4 268.5 C143.3 272.1 144.4 276.5 145.7 280.5 C147.0 284.5 148.5 288.5 150.0 292.3 C151.5 296.1 153.0 299.8 154.5 303.2 C156.0 306.6 157.0 308.7 158.9 312.6 C160.9 316.6 164.6 323.7 166.4 327.1 C167.8 329.6 168.4 330.6 170.0 333.0 C171.6 335.5 173.7 339.1 176.0 341.9 C178.3 344.7 181.3 347.1 183.9 349.8 C186.5 352.5 189.2 355.2 191.8 357.8 C194.5 360.4 196.8 362.7 199.8 365.7 C202.8 368.7 206.4 372.0 209.7 375.6 C213.0 379.2 216.3 383.5 219.6 387.5 C222.9 391.5 226.8 395.9 229.5 399.4 C232.2 402.9 233.5 405.2 235.5 408.4 C237.5 411.6 240.7 416.9 241.7 418.6" fill="none" stroke="#a82828" stroke-width="1.45" stroke-linejoin="round" stroke-linecap="round"/>
<path d="M43.9 418.6 C44.8 416.2 46.5 410.0 49.0 404.3 C51.5 398.6 55.6 390.7 59.1 384.2 C62.6 377.7 66.7 371.0 70.0 365.5 C73.3 360.0 75.1 356.7 78.8 351.0 C82.5 345.3 88.0 338.5 92.1 331.2 C96.1 323.9 100.5 313.3 103.1 307.4 C105.3 302.5 106.2 299.8 107.9 295.5 C109.6 291.2 111.4 285.7 113.2 281.5 C115.0 277.3 116.7 274.0 118.5 270.2 C120.3 266.4 123.2 260.5 124.2 258.6 M124.2 258.6 C124.6 260.0 125.7 264.0 126.5 267.2 C127.3 270.4 128.3 274.0 129.1 277.8 C129.8 281.6 130.1 285.8 131.0 290.0 C131.9 294.2 133.2 298.8 134.6 303.2 C136.0 307.6 137.4 312.3 139.2 316.5 C141.0 320.7 143.1 324.6 145.2 328.4 C147.3 332.1 149.4 335.6 151.8 339.0 C154.2 342.4 156.7 345.3 159.7 348.9 C162.7 352.5 167.0 357.3 170.0 360.8 C173.0 364.3 175.2 366.2 177.9 369.7 C180.6 373.2 183.2 377.6 185.9 381.6 C188.6 385.6 191.2 389.5 193.8 393.5 C196.4 397.5 199.1 401.2 201.7 405.4 C204.3 409.6 207.9 416.4 209.2 418.6" fill="none" stroke="#2323ff" stroke-width="1.45" stroke-linejoin="round" stroke-linecap="round"/>
<path d="M43.9 418.6 C44.4 416.2 45.3 409.2 47.0 404.3 C48.7 399.4 51.8 393.7 54.0 389.0 C56.2 384.3 57.8 380.4 60.0 376.0 C62.2 371.6 64.6 367.1 67.0 362.5 C69.4 357.9 71.7 353.7 74.4 348.5 C77.1 343.3 80.2 337.1 83.2 331.5 C86.2 325.9 89.5 320.3 92.1 315.2 C94.7 310.1 96.3 306.4 98.7 300.8 C101.1 295.2 104.5 287.2 106.6 281.8 C108.7 276.4 110.1 271.4 111.3 268.2 C112.2 265.8 113.1 264.1 113.9 262.6 C114.7 261.1 115.8 259.6 116.2 259.0 M116.2 259.0 C116.5 260.8 117.3 266.3 117.9 269.9 C118.5 273.5 119.2 277.1 119.9 280.5 C120.6 283.9 121.1 286.2 122.0 290.0 C122.9 293.8 124.1 298.8 125.3 303.2 C126.5 307.6 128.0 312.5 129.3 316.5 C130.6 320.5 131.7 323.4 133.2 327.1 C134.7 330.9 136.6 335.4 138.5 339.0 C140.4 342.6 142.6 346.0 144.5 348.9 C146.4 351.8 147.7 353.4 150.0 356.5 C152.3 359.6 155.3 363.3 158.6 367.5 C161.9 371.7 166.8 377.3 170.0 381.6 C173.2 385.9 175.2 389.5 177.9 393.5 C180.6 397.5 183.3 401.2 185.9 405.4 C188.5 409.6 192.2 416.4 193.4 418.6" fill="none" stroke="#22a322" stroke-width="1.45" stroke-linejoin="round" stroke-linecap="round"/>
<path d="M43.9 418.6 C44.0 417.2 44.2 413.1 44.4 410.0 C44.6 406.9 44.6 404.4 45.0 400.3 C45.4 396.0 46.0 389.6 47.0 384.2 C48.0 378.8 49.3 373.9 51.0 368.2 C52.7 362.5 55.6 354.3 57.1 350.1 C58.2 347.1 58.9 346.0 60.0 343.0 C61.2 339.6 62.4 335.0 64.1 330.0 C65.8 325.0 67.7 320.2 70.0 313.0 C72.6 304.7 77.0 289.1 79.9 280.0 C82.9 270.9 86.4 262.2 87.7 258.6 M87.7 258.6 C87.9 260.8 88.4 266.4 88.8 272.0 C89.2 277.9 89.4 286.6 89.9 294.0 C90.5 301.4 91.2 309.7 92.1 316.2 C93.0 322.7 94.1 327.9 95.4 333.0 C96.7 338.1 97.9 342.2 99.8 347.0 C101.7 351.8 104.1 356.4 106.6 362.0 C109.1 367.6 111.8 374.4 114.6 380.5 C117.4 386.6 120.5 392.7 123.3 398.3 C126.1 403.9 129.7 410.9 131.4 414.3 C132.3 416.2 133.2 418.1 133.6 418.8" fill="none" stroke="#1e1e1e" stroke-width="1.45" stroke-linejoin="round" stroke-linecap="round"/>
<rect x="43.7" y="244.0" width="219.5" height="174.8" fill="none" stroke="#262626" stroke-width="1.50"/>
<line x1="39.7" y1="418.8" x2="43.7" y2="418.8" stroke="#262626" stroke-width="1.35"/>
<line x1="39.7" y1="386.8" x2="43.7" y2="386.8" stroke="#262626" stroke-width="1.35"/>
<line x1="39.7" y1="354.9" x2="43.7" y2="354.9" stroke="#262626" stroke-width="1.35"/>
<line x1="39.7" y1="322.9" x2="43.7" y2="322.9" stroke="#262626" stroke-width="1.35"/>
<line x1="39.7" y1="291.0" x2="43.7" y2="291.0" stroke="#262626" stroke-width="1.35"/>
<line x1="39.7" y1="259.0" x2="43.7" y2="259.0" stroke="#262626" stroke-width="1.35"/>
<line x1="41.5" y1="402.8" x2="43.7" y2="402.8" stroke="#262626" stroke-width="1.35"/>
<line x1="41.5" y1="370.9" x2="43.7" y2="370.9" stroke="#262626" stroke-width="1.35"/>
<line x1="41.5" y1="338.9" x2="43.7" y2="338.9" stroke="#262626" stroke-width="1.35"/>
<line x1="41.5" y1="306.9" x2="43.7" y2="306.9" stroke="#262626" stroke-width="1.35"/>
<line x1="41.5" y1="275.0" x2="43.7" y2="275.0" stroke="#262626" stroke-width="1.35"/>
<text x="38.1" y="421.7" font-size="11.00" text-anchor="end" font-weight="normal" fill="#161616" stroke="#161616" stroke-width="0.42" >0.0</text>
<text x="38.1" y="389.7" font-size="11.00" text-anchor="end" font-weight="normal" fill="#161616" stroke="#161616" stroke-width="0.42" >0.2</text>
<text x="38.1" y="357.8" font-size="11.00" text-anchor="end" font-weight="normal" fill="#161616" stroke="#161616" stroke-width="0.42" >0.4</text>
<text x="38.1" y="325.8" font-size="11.00" text-anchor="end" font-weight="normal" fill="#161616" stroke="#161616" stroke-width="0.42" >0.6</text>
<text x="38.1" y="293.9" font-size="11.00" text-anchor="end" font-weight="normal" fill="#161616" stroke="#161616" stroke-width="0.42" >0.8</text>
<text x="38.1" y="261.9" font-size="11.00" text-anchor="end" font-weight="normal" fill="#161616" stroke="#161616" stroke-width="0.42" >1.0</text>
<line x1="43.7" y1="418.8" x2="43.7" y2="422.4" stroke="#262626" stroke-width="1.35"/>
<line x1="80.3" y1="418.8" x2="80.3" y2="422.4" stroke="#262626" stroke-width="1.35"/>
<line x1="116.9" y1="418.8" x2="116.9" y2="422.4" stroke="#262626" stroke-width="1.35"/>
<line x1="153.4" y1="418.8" x2="153.4" y2="422.4" stroke="#262626" stroke-width="1.35"/>
<line x1="190.0" y1="418.8" x2="190.0" y2="422.4" stroke="#262626" stroke-width="1.35"/>
<line x1="226.6" y1="418.8" x2="226.6" y2="422.4" stroke="#262626" stroke-width="1.35"/>
<line x1="263.2" y1="418.8" x2="263.2" y2="422.4" stroke="#262626" stroke-width="1.35"/>
<line x1="62.0" y1="418.8" x2="62.0" y2="421.0" stroke="#262626" stroke-width="1.35"/>
<line x1="98.6" y1="418.8" x2="98.6" y2="421.0" stroke="#262626" stroke-width="1.35"/>
<line x1="135.2" y1="418.8" x2="135.2" y2="421.0" stroke="#262626" stroke-width="1.35"/>
<line x1="171.7" y1="418.8" x2="171.7" y2="421.0" stroke="#262626" stroke-width="1.35"/>
<line x1="208.3" y1="418.8" x2="208.3" y2="421.0" stroke="#262626" stroke-width="1.35"/>
<line x1="244.9" y1="418.8" x2="244.9" y2="421.0" stroke="#262626" stroke-width="1.35"/>
<text x="43.7" y="433.3" font-size="11.40" text-anchor="middle" font-weight="normal" fill="#161616" stroke="#161616" stroke-width="0.42" >0</text>
<text x="80.3" y="433.3" font-size="11.40" text-anchor="middle" font-weight="normal" fill="#161616" stroke="#161616" stroke-width="0.42" >100</text>
<text x="116.9" y="433.3" font-size="11.40" text-anchor="middle" font-weight="normal" fill="#161616" stroke="#161616" stroke-width="0.42" >200</text>
<text x="153.4" y="433.3" font-size="11.40" text-anchor="middle" font-weight="normal" fill="#161616" stroke="#161616" stroke-width="0.42" >300</text>
<text x="190.0" y="433.3" font-size="11.40" text-anchor="middle" font-weight="normal" fill="#161616" stroke="#161616" stroke-width="0.42" >400</text>
<text x="226.6" y="433.3" font-size="11.40" text-anchor="middle" font-weight="normal" fill="#161616" stroke="#161616" stroke-width="0.42" >500</text>
<text x="263.2" y="433.3" font-size="11.40" text-anchor="middle" font-weight="normal" fill="#161616" stroke="#161616" stroke-width="0.42" >600</text>
<text x="148.0" y="449.4" font-size="11.50" text-anchor="middle" font-weight="normal" fill="#161616" stroke="#161616" stroke-width="0.42" textLength="53.6" lengthAdjust="spacingAndGlyphs" >Time (sec)</text>
<text x="9.4" y="338.4" font-size="11.50" text-anchor="middle" font-weight="normal" fill="#161616" stroke="#161616" stroke-width="0.42" textLength="123.5" lengthAdjust="spacingAndGlyphs" transform="rotate(-90 9.4 338.4)" >Potential (V) vs Ag/AgCl</text>
<text x="51.2" y="263.0" font-size="16.00" text-anchor="start" font-weight="bold" fill="#000" stroke="#000" stroke-width="0.45" >c</text>
<line x1="186.3" y1="256.6" x2="206.4" y2="256.6" stroke="#444" stroke-width="1.70"/>
<text x="209.0" y="258.7" font-size="8.40" text-anchor="start" font-weight="normal" fill="#222" stroke="#222" stroke-width="0.42" textLength="12.0" lengthAdjust="spacingAndGlyphs" >EG</text>
<line x1="184.4" y1="270.9" x2="205.2" y2="270.9" stroke="#22a322" stroke-width="1.70"/>
<text x="207.7" y="273.0" font-size="8.40" text-anchor="start" font-weight="normal" fill="#222" stroke="#222" stroke-width="0.42" textLength="25.5" lengthAdjust="spacingAndGlyphs" >BCN-1</text>
<line x1="184.4" y1="282.3" x2="205.2" y2="282.3" stroke="#2323ff" stroke-width="1.70"/>
<text x="207.7" y="284.4" font-size="8.40" text-anchor="start" font-weight="normal" fill="#222" stroke="#222" stroke-width="0.42" textLength="25.5" lengthAdjust="spacingAndGlyphs" >BCN-2</text>
<line x1="184.4" y1="294.5" x2="205.2" y2="294.5" stroke="#a82828" stroke-width="1.70"/>
<text x="207.7" y="296.6" font-size="8.40" text-anchor="start" font-weight="normal" fill="#222" stroke="#222" stroke-width="0.42" textLength="25.5" lengthAdjust="spacingAndGlyphs" >BCN-3</text>
<path d="M356.4 346.9 L367.2 358.9 L385.0 371.0 L420.7 385.6 L456.4 394.0 L492.1 399.9 L527.8 405.9" fill="none" stroke="#111111" stroke-width="1.60" stroke-linejoin="round" stroke-linecap="round" />
<path d="M356.4 350.1 L359.8 344.5 L353.0 344.5 Z" fill="#111111"/>
<path d="M367.2 362.1 L370.6 356.5 L363.8 356.5 Z" fill="#111111"/>
<path d="M385.0 374.2 L388.4 368.6 L381.6 368.6 Z" fill="#111111"/>
<path d="M420.7 388.8 L424.1 383.2 L417.3 383.2 Z" fill="#111111"/>
<path d="M456.4 397.2 L459.8 391.6 L453.0 391.6 Z" fill="#111111"/>
<path d="M492.1 403.1 L495.5 397.5 L488.7 397.5 Z" fill="#111111"/>
<path d="M527.8 409.1 L531.2 403.5 L524.4 403.5 Z" fill="#111111"/>
<path d="M356.4 287.6 L367.2 300.0 L385.0 307.0 L420.7 314.5 L456.4 325.3 L492.1 332.7 L527.8 341.6" fill="none" stroke="#1a9a1a" stroke-width="1.60" stroke-linejoin="round" stroke-linecap="round" />
<path d="M356.4 284.4 L359.8 290.0 L353.0 290.0 Z" fill="#1a9a1a"/>
<path d="M367.2 296.8 L370.6 302.4 L363.8 302.4 Z" fill="#1a9a1a"/>
<path d="M385.0 303.8 L388.4 309.4 L381.6 309.4 Z" fill="#1a9a1a"/>
<path d="M420.7 311.3 L424.1 316.9 L417.3 316.9 Z" fill="#1a9a1a"/>
<path d="M456.4 322.1 L459.8 327.7 L453.0 327.7 Z" fill="#1a9a1a"/>
<path d="M492.1 329.5 L495.5 335.1 L488.7 335.1 Z" fill="#1a9a1a"/>
<path d="M527.8 338.4 L531.2 344.0 L524.4 344.0 Z" fill="#1a9a1a"/>
<path d="M356.4 281.0 L367.2 291.6 L385.0 303.1 L420.7 309.1 L456.4 319.8 L492.1 323.9 L527.8 330.5" fill="none" stroke="#1414ff" stroke-width="1.60" stroke-linejoin="round" stroke-linecap="round" />
<circle cx="356.4" cy="281.0" r="2.9" fill="#1414ff"/>
<circle cx="367.2" cy="291.6" r="2.9" fill="#1414ff"/>
<circle cx="385.0" cy="303.1" r="2.9" fill="#1414ff"/>
<circle cx="420.7" cy="309.1" r="2.9" fill="#1414ff"/>
<circle cx="456.4" cy="319.8" r="2.9" fill="#1414ff"/>
<circle cx="492.1" cy="323.9" r="2.9" fill="#1414ff"/>
<circle cx="527.8" cy="330.5" r="2.9" fill="#1414ff"/>
<path d="M356.4 251.4 L367.2 261.6 L385.0 271.5 L420.7 281.6 L456.4 288.6 L492.1 297.9 L527.8 304.7" fill="none" stroke="#9a1414" stroke-width="1.60" stroke-linejoin="round" stroke-linecap="round" />
<rect x="353.9" y="248.9" width="5" height="5" fill="#9a1414"/>
<rect x="364.7" y="259.1" width="5" height="5" fill="#9a1414"/>
<rect x="382.5" y="269.0" width="5" height="5" fill="#9a1414"/>
<rect x="418.2" y="279.1" width="5" height="5" fill="#9a1414"/>
<rect x="453.9" y="286.1" width="5" height="5" fill="#9a1414"/>
<rect x="489.6" y="295.4" width="5" height="5" fill="#9a1414"/>
<rect x="525.3" y="302.2" width="5" height="5" fill="#9a1414"/>
<rect x="331.7" y="238.7" width="214.3" height="181.0" fill="none" stroke="#262626" stroke-width="1.50"/>
<line x1="327.7" y1="419.7" x2="331.7" y2="419.7" stroke="#262626" stroke-width="1.35"/>
<line x1="327.7" y1="386.8" x2="331.7" y2="386.8" stroke="#262626" stroke-width="1.35"/>
<line x1="327.7" y1="353.8" x2="331.7" y2="353.8" stroke="#262626" stroke-width="1.35"/>
<line x1="327.7" y1="320.9" x2="331.7" y2="320.9" stroke="#262626" stroke-width="1.35"/>
<line x1="327.7" y1="287.9" x2="331.7" y2="287.9" stroke="#262626" stroke-width="1.35"/>
<line x1="327.7" y1="255.0" x2="331.7" y2="255.0" stroke="#262626" stroke-width="1.35"/>
<line x1="329.5" y1="403.2" x2="331.7" y2="403.2" stroke="#262626" stroke-width="1.35"/>
<line x1="329.5" y1="370.3" x2="331.7" y2="370.3" stroke="#262626" stroke-width="1.35"/>
<line x1="329.5" y1="337.3" x2="331.7" y2="337.3" stroke="#262626" stroke-width="1.35"/>
<line x1="329.5" y1="304.4" x2="331.7" y2="304.4" stroke="#262626" stroke-width="1.35"/>
<line x1="329.5" y1="271.5" x2="331.7" y2="271.5" stroke="#262626" stroke-width="1.35"/>
<text x="324.3" y="423.3" font-size="12.00" text-anchor="end" font-weight="normal" fill="#161616" stroke="#161616" stroke-width="0.42" >50</text>
<text x="324.3" y="390.4" font-size="12.00" text-anchor="end" font-weight="normal" fill="#161616" stroke="#161616" stroke-width="0.42" >100</text>
<text x="324.3" y="357.4" font-size="12.00" text-anchor="end" font-weight="normal" fill="#161616" stroke="#161616" stroke-width="0.42" >150</text>
<text x="324.3" y="324.5" font-size="12.00" text-anchor="end" font-weight="normal" fill="#161616" stroke="#161616" stroke-width="0.42" >200</text>
<text x="324.3" y="291.5" font-size="12.00" text-anchor="end" font-weight="normal" fill="#161616" stroke="#161616" stroke-width="0.42" >250</text>
<text x="324.3" y="258.6" font-size="12.00" text-anchor="end" font-weight="normal" fill="#161616" stroke="#161616" stroke-width="0.42" >300</text>
<line x1="349.3" y1="419.7" x2="349.3" y2="423.3" stroke="#262626" stroke-width="1.35"/>
<line x1="385.0" y1="419.7" x2="385.0" y2="423.3" stroke="#262626" stroke-width="1.35"/>
<line x1="420.7" y1="419.7" x2="420.7" y2="423.3" stroke="#262626" stroke-width="1.35"/>
<line x1="456.4" y1="419.7" x2="456.4" y2="423.3" stroke="#262626" stroke-width="1.35"/>
<line x1="492.1" y1="419.7" x2="492.1" y2="423.3" stroke="#262626" stroke-width="1.35"/>
<line x1="527.8" y1="419.7" x2="527.8" y2="423.3" stroke="#262626" stroke-width="1.35"/>
<line x1="331.4" y1="419.7" x2="331.4" y2="421.9" stroke="#262626" stroke-width="1.35"/>
<line x1="367.2" y1="419.7" x2="367.2" y2="421.9" stroke="#262626" stroke-width="1.35"/>
<line x1="402.9" y1="419.7" x2="402.9" y2="421.9" stroke="#262626" stroke-width="1.35"/>
<line x1="438.6" y1="419.7" x2="438.6" y2="421.9" stroke="#262626" stroke-width="1.35"/>
<line x1="474.2" y1="419.7" x2="474.2" y2="421.9" stroke="#262626" stroke-width="1.35"/>
<line x1="510.0" y1="419.7" x2="510.0" y2="421.9" stroke="#262626" stroke-width="1.35"/>
<text x="349.3" y="434.4" font-size="12.00" text-anchor="middle" font-weight="normal" fill="#161616" stroke="#161616" stroke-width="0.42" >0</text>
<text x="385.0" y="434.4" font-size="12.00" text-anchor="middle" font-weight="normal" fill="#161616" stroke="#161616" stroke-width="0.42" >1</text>
<text x="420.7" y="434.4" font-size="12.00" text-anchor="middle" font-weight="normal" fill="#161616" stroke="#161616" stroke-width="0.42" >2</text>
<text x="456.4" y="434.4" font-size="12.00" text-anchor="middle" font-weight="normal" fill="#161616" stroke="#161616" stroke-width="0.42" >3</text>
<text x="492.1" y="434.4" font-size="12.00" text-anchor="middle" font-weight="normal" fill="#161616" stroke="#161616" stroke-width="0.42" >4</text>
<text x="527.8" y="434.4" font-size="12.00" text-anchor="middle" font-weight="normal" fill="#161616" stroke="#161616" stroke-width="0.42" >5</text>
<text x="438.6" y="447.6" font-size="12.40" text-anchor="middle" font-weight="normal" fill="#161616" stroke="#161616" stroke-width="0.42" textLength="116.6" lengthAdjust="spacingAndGlyphs" >Current Density (A/g)</text>
<text x="297.0" y="336.9" font-size="12.40" text-anchor="middle" font-weight="normal" fill="#161616" stroke="#161616" stroke-width="0.42" textLength="145.5" lengthAdjust="spacingAndGlyphs" transform="rotate(-90 297.0 336.9)" >Specific Capacitance (F/g)</text>
<text x="338.1" y="262.9" font-size="15.50" text-anchor="start" font-weight="bold" fill="#000" stroke="#000" stroke-width="0.45" >d</text>
<line x1="438.7" y1="344.9" x2="459.1" y2="344.9" stroke="#9a1414" stroke-width="1.60"/>
<rect x="446.7" y="342.4" width="5" height="5" fill="#9a1414"/>
<text x="461.5" y="347.7" font-size="9.60" text-anchor="start" font-weight="normal" fill="#222" stroke="#222" stroke-width="0.42" textLength="27.8" lengthAdjust="spacingAndGlyphs" >BCN-3</text>
<line x1="438.7" y1="356.7" x2="459.1" y2="356.7" stroke="#1414ff" stroke-width="1.60"/>
<circle cx="449.2" cy="356.7" r="2.9" fill="#1414ff"/>
<text x="461.5" y="359.5" font-size="9.60" text-anchor="start" font-weight="normal" fill="#222" stroke="#222" stroke-width="0.42" textLength="27.8" lengthAdjust="spacingAndGlyphs" >BCN-2</text>
<line x1="438.7" y1="368.5" x2="459.1" y2="368.5" stroke="#1a9a1a" stroke-width="1.60"/>
<path d="M449.2 365.3 L452.6 370.9 L445.8 370.9 Z" fill="#1a9a1a"/>
<text x="461.5" y="371.3" font-size="9.60" text-anchor="start" font-weight="normal" fill="#222" stroke="#222" stroke-width="0.42" textLength="27.8" lengthAdjust="spacingAndGlyphs" >BCN-1</text>
<line x1="438.7" y1="380.3" x2="459.1" y2="380.3" stroke="#111111" stroke-width="1.60"/>
<path d="M449.2 383.5 L452.6 377.9 L445.8 377.9 Z" fill="#111111"/>
<text x="461.5" y="383.1" font-size="9.60" text-anchor="start" font-weight="normal" fill="#222" stroke="#222" stroke-width="0.42" textLength="13.8" lengthAdjust="spacingAndGlyphs" >EG</text>
</g>
</svg>
</body></html>
